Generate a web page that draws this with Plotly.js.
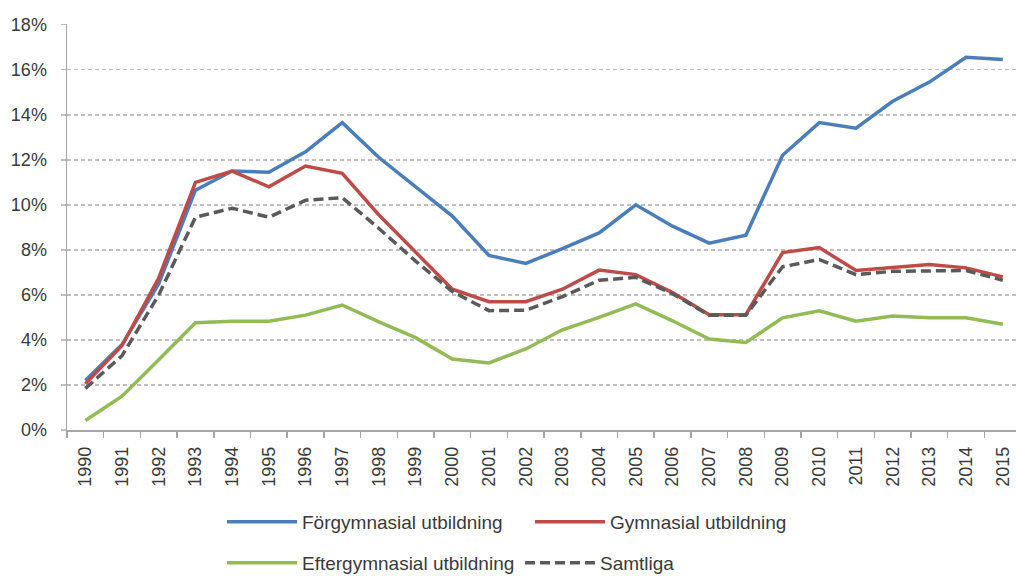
<!DOCTYPE html>
<html>
<head>
<meta charset="utf-8">
<script src="https://cdn.plot.ly/plotly-3.0.1.min.js"></script>
<style>html,body{margin:0;padding:0;background:#fff;}#chart{width:1016px;height:576px;}</style>
</head>
<body>
<div id="chart"></div>
<script>
var years = ["1990","1991","1992","1993","1994","1995","1996","1997","1998","1999","2000","2001","2002","2003","2004","2005","2006","2007","2008","2009","2010","2011","2012","2013","2014","2015"];
var seriesNames = ["Förgymnasial utbildning","Gymnasial utbildning","Eftergymnasial utbildning","Samtliga"];
var forgymnasial = [2.2,3.8,6.5,10.65,11.5,11.45,12.35,13.65,12.1,10.8,9.5,7.75,7.4,8.05,8.75,10.0,9.05,8.3,8.65,12.2,13.65,13.4,14.6,15.45,16.55,16.45];
var gymnasial = [2.05,3.75,6.75,11.0,11.5,10.8,11.72,11.4,9.55,7.9,6.25,5.7,5.7,6.25,7.1,6.9,6.1,5.12,5.12,7.88,8.1,7.08,7.2,7.35,7.2,6.8];
var eftergymnasial = [0.42,1.5,3.12,4.76,4.83,4.83,5.1,5.55,4.8,4.1,3.15,2.98,3.6,4.45,5.0,5.6,4.85,4.04,3.89,4.98,5.29,4.83,5.06,4.98,4.98,4.7];
var samtliga = [1.85,3.3,6.0,9.45,9.85,9.45,10.2,10.32,8.95,7.5,6.15,5.3,5.32,5.92,6.65,6.78,6.05,5.1,5.1,7.25,7.57,6.9,7.05,7.08,7.08,6.65];
var yTicks = [0,2,4,6,8,10,12,14,16,18];

var font = "Liberation Sans, Arial, sans-serif";
var textColor = "#3a3a3a";

var traces = [
  {x: years, y: forgymnasial, name: seriesNames[0], type: "scatter", mode: "lines",
   line: {color: "#4a7ebb", width: 3.5}, legend: "legend"},
  {x: years, y: gymnasial, name: seriesNames[1], type: "scatter", mode: "lines",
   line: {color: "#be4b48", width: 3.5}, legend: "legend"},
  {x: years, y: eftergymnasial, name: seriesNames[2], type: "scatter", mode: "lines",
   line: {color: "#93bb55", width: 3.5}, legend: "legend2"},
  {x: years, y: samtliga, name: seriesNames[3], type: "scatter", mode: "lines",
   line: {color: "#5a5a5a", width: 3.5, dash: "10px,5px"}, legend: "legend2"}
];

var legendCommon = {
  orientation: "h", xref: "container", yref: "container",
  xanchor: "left", yanchor: "middle",
  font: {family: font, size: 19, color: textColor},
  itemwidth: 70, bgcolor: "rgba(0,0,0,0)",
  traceorder: "normal"
};

var layout = {
  width: 1016, height: 576,
  margin: {l: 67, r: 0, t: 24, b: 146, pad: 0},
  paper_bgcolor: "#ffffff", plot_bgcolor: "#ffffff",
  showlegend: true,
  xaxis: {
    type: "category", range: [-0.5, 25.36],
    tickson: "boundaries", ticks: "outside", ticklen: 6, tickcolor: "#a6a6a6", tickwidth: 1.5,
    showline: true, linecolor: "#a6a6a6", linewidth: 1.5,
    showgrid: false, tickangle: -90,
    tickfont: {family: font, size: 18, color: textColor},
    ticklabelstandoff: 8
  },
  yaxis: {
    range: [0, 18.03], tickvals: yTicks, ticktext: yTicks.map(function(v){return v + "%";}),
    ticks: "outside", ticklen: 5, tickcolor: "#bfbfbf", tickwidth: 1.5,
    showline: true, linecolor: "#a6a6a6", linewidth: 1.5,
    showgrid: true, gridcolor: "#bfbfbf", gridwidth: 1.5, griddash: "4px,3px",
    zeroline: false,
    tickfont: {family: font, size: 18, color: textColor},
    ticklabelstandoff: 10
  },
  legend: Object.assign({}, legendCommon, {x: 222/1016, y: 1 - 522/576, entrywidth: 223}),
  legend2: Object.assign({}, legendCommon, {x: 222/1016, y: 1 - 563/576, entrywidth: 213})
};

Plotly.newPlot("chart", traces, layout, {displayModeBar: false, staticPlot: true});
</script>
</body>
</html>
